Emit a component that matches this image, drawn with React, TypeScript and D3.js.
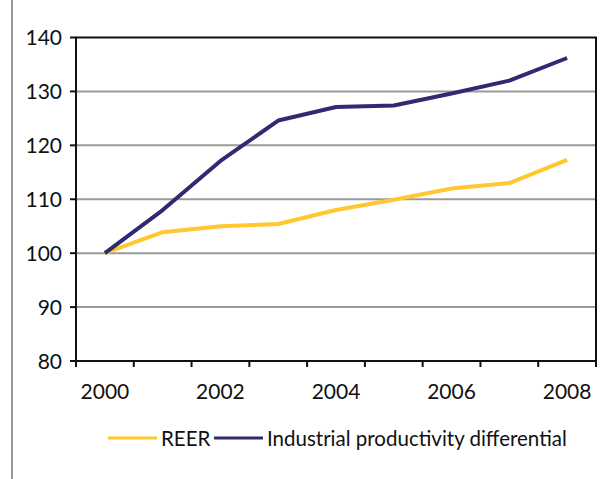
import React from "react";
import * as d3 from "d3";

const years = ["2000", "2001", "2002", "2003", "2004", "2005", "2006", "2007", "2008"];
const reer = [100, 103.9, 105.0, 105.4, 108.0, 109.9, 112.0, 113.0, 117.3];
const productivity = [100, 108.0, 117.1, 124.6, 127.1, 127.4, 129.6, 132.0, 136.2];
const yTicks = [80, 90, 100, 110, 120, 130, 140];
const xLabels = ["2000", "2002", "2004", "2006", "2008"];
const seriesNames = ["REER", "Industrial productivity differential"];

const W = 607;
const H = 479;
const plot = { left: 76, right: 596, top: 37.5, bottom: 361 };
const FONT = "Lato, 'Open Sans', sans-serif";
const YELLOW = "#fec82e";
const NAVY = "#302a72";

export default function App() {
  const x = d3.scaleBand<string>().domain(years).range([plot.left, plot.right]);
  const y = d3.scaleLinear().domain([80, 140]).range([plot.bottom, plot.top]);
  const cx = (yr: string) => (x(yr) as number) + x.bandwidth() / 2;

  const line = d3
    .line<number>()
    .x((_, i) => cx(years[i]))
    .y((v) => y(v));

  const boundaries = years.map((yr) => x(yr) as number).concat([plot.right]);

  return (
    <svg
      width={W}
      height={H}
      style={{ position: "absolute", left: 0, top: 0, background: "#fff" }}
      fontFamily={FONT}
    >
      {/* frame rule on the left */}
      <line x1={12} x2={12} y1={0} y2={H} stroke="#555" strokeWidth={1.2} />

      {/* gridlines */}
      {yTicks.slice(1, -1).map((t) => (
        <line
          key={t}
          x1={plot.left}
          x2={plot.right}
          y1={y(t)}
          y2={y(t)}
          stroke="#9a9a9a"
          strokeWidth={2}
        />
      ))}

      {/* plot border */}
      <rect
        x={plot.left}
        y={plot.top}
        width={plot.right - plot.left}
        height={plot.bottom - plot.top}
        fill="none"
        stroke="#111"
        strokeWidth={2}
      />

      {/* y axis ticks and labels */}
      {yTicks.map((t) => (
        <g key={t}>
          <line x1={plot.left - 6} x2={plot.left} y1={y(t)} y2={y(t)} stroke="#111" strokeWidth={2} />
          <text
            x={62}
            y={y(t)}
            dy="0.36em"
            textAnchor="end"
            fontSize={21}
            fill="#111"
          >
            {t}
          </text>
        </g>
      ))}

      {/* x axis ticks at category boundaries */}
      {boundaries.map((b, i) => (
        <line key={i} x1={b} x2={b} y1={plot.bottom} y2={plot.bottom + 6} stroke="#111" strokeWidth={2} />
      ))}
      {xLabels.map((l) => (
        <text key={l} x={cx(l)} y={399} textAnchor="middle" fontSize={21} fill="#111">
          {l}
        </text>
      ))}

      {/* series */}
      <path d={line(reer) || ""} fill="none" stroke={YELLOW} strokeWidth={4} strokeLinejoin="round" />
      <path d={line(productivity) || ""} fill="none" stroke={NAVY} strokeWidth={4} strokeLinejoin="round" />

      {/* legend */}
      <line x1={108} x2={157} y1={438} y2={438} stroke={YELLOW} strokeWidth={3} />
      <text x={161} y={446} fontSize={20.5} fill="#111">
        {seriesNames[0]}
      </text>
      <line x1={214} x2={263} y1={438} y2={438} stroke={NAVY} strokeWidth={3} />
      <text x={267} y={446} fontSize={20.5} fill="#111">
        {seriesNames[1]}
      </text>
    </svg>
  );
}
